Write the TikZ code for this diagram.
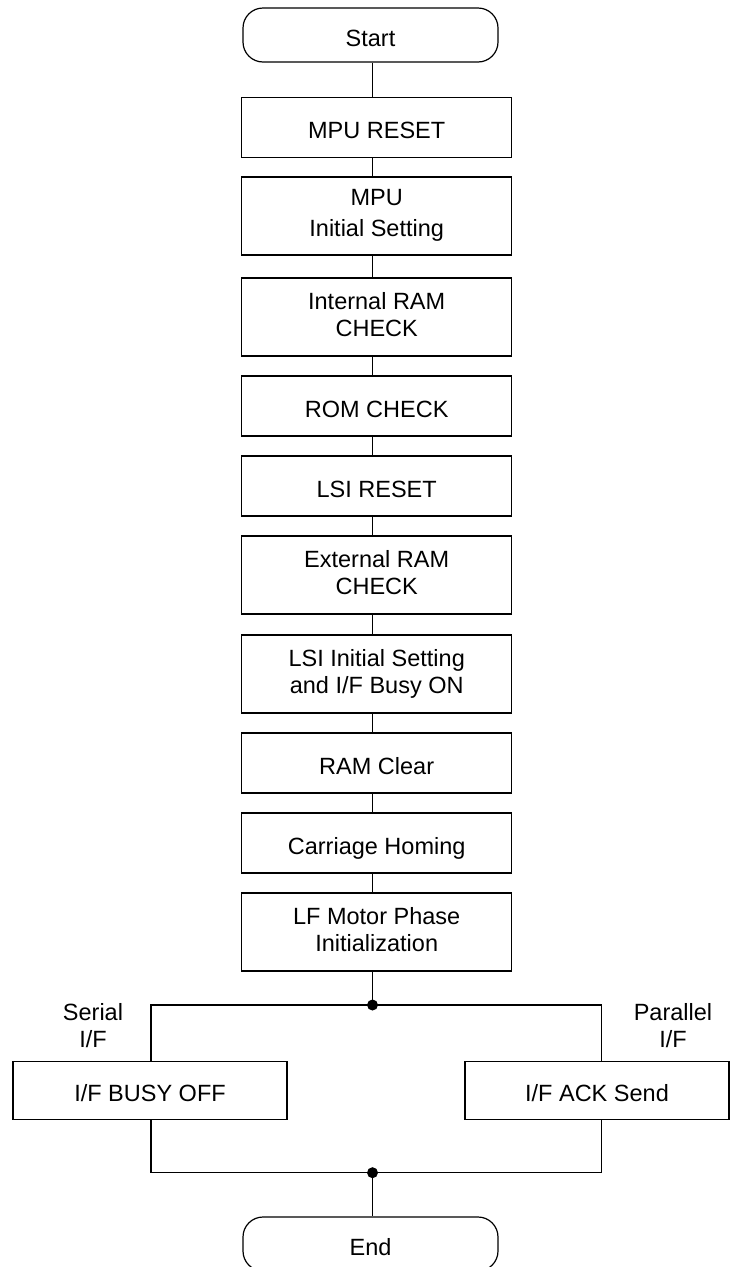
\documentclass[tikz,border=0pt]{standalone}
\usepackage{fontspec}
\setmainfont{Liberation Sans}
\begin{document}
\begin{tikzpicture}[x=1pt,y=-1pt,
  txt/.style={font=\fontsize{23.5}{27}\selectfont, align=center, inner sep=0pt,
    execute at begin node={\rule{0pt}{28pt}},
    execute at end node={\rule[-5.2pt]{0pt}{5.2pt}}},
  stepbox/.style={txt, draw, line width=1.2pt, minimum width=270pt},
  onebox/.style={stepbox, minimum height=60pt},
  twobox/.style={stepbox, minimum height=78pt},
  term/.style={txt, draw, line width=1.2pt, rounded corners=20pt, minimum width=255pt, minimum height=54pt},
  conn/.style={line width=1.2pt}
]
\useasboundingbox (0,0) rectangle (730,1267);

\node[term] (start) at (370.5,35) {Start};
\node[onebox] (mpureset) at (376.7,127.5) {MPU RESET};
\node[twobox] (mpuinit) at (376.7,216) {MPU\\[4pt]Initial Setting};
\node[twobox] (iram) at (376.7,317) {Internal RAM\\CHECK};
\node[onebox] (rom) at (376.7,406) {ROM CHECK};
\node[onebox] (lsireset) at (376.7,486) {LSI RESET};
\node[twobox] (eram) at (376.7,575) {External RAM\\CHECK};
\node[twobox] (lsiinit) at (376.7,674) {LSI Initial Setting\\and I/F Busy ON};
\node[onebox] (ramclr) at (376.7,763) {RAM Clear};
\node[onebox] (home) at (376.7,843) {Carriage Homing};
\node[twobox] (lf) at (376.7,932) {LF Motor Phase\\Initialization};

\node[stepbox, minimum width=274pt, minimum height=58pt] (busy) at (150,1090.5) {I/F BUSY OFF};
\node[stepbox, minimum width=264pt, minimum height=58pt] (ack) at (597,1090.5) {I/F ACK Send};
\node[term] (end) at (370.5,1244) {End};

\node[txt] (serial) at (93,1028) {Serial\\I/F};
\node[txt] (parallel) at (673,1028) {Parallel\\I/F};

\coordinate (spine) at (372.5,0);
\coordinate (lcol) at (151,0);
\coordinate (rcol) at (601.7,0);
\coordinate (jtop) at (372.5,1005);
\coordinate (jbot) at (372.5,1172.7);

\foreach \a/\b in {start/mpureset, mpureset/mpuinit, mpuinit/iram, iram/rom, rom/lsireset, lsireset/eram, eram/lsiinit, lsiinit/ramclr, ramclr/home, home/lf}
  \draw[conn] (\a.south -| spine) -- (\b.north -| spine);
\draw[conn] (lf.south -| spine) -- (jtop);
\draw[conn] (busy.north -| lcol) -- (jtop -| lcol) -- (jtop -| rcol) -- (ack.north -| rcol);
\draw[conn] (busy.south -| lcol) -- (jbot -| lcol) -- (jbot -| rcol) -- (ack.south -| rcol);
\draw[conn] (jbot) -- (end.north -| spine);
\fill (jtop) circle[radius=5.5pt];
\fill (jbot) circle[radius=5.5pt];
\end{tikzpicture}
\end{document}
